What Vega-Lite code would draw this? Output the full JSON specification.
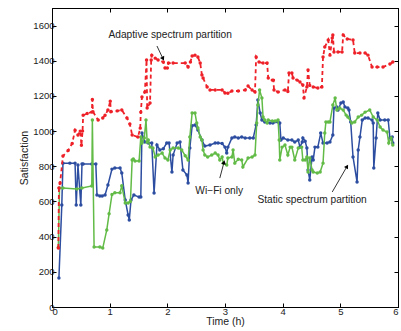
{
  "$schema": "https://vega.github.io/schema/vega-lite/v6.json",
  "width": 346,
  "height": 299,
  "autosize": {"type": "none"},
  "padding": {"left": 52, "top": 8, "right": 3, "bottom": 24},
  "background": "white",
  "config": {
    "view": {"stroke": "black", "strokeWidth": 1},
    "axis": {
      "grid": false,
      "domainColor": "black",
      "tickColor": "black",
      "labelColor": "#222",
      "titleColor": "#222",
      "labelFont": "Liberation Sans",
      "titleFont": "Liberation Sans",
      "labelFontSize": 9.5,
      "titleFontSize": 10.5,
      "titleFontWeight": "normal",
      "tickSize": -4,
      "format": "d"
    }
  },
  "datasets": {
    "lines": [
      {"s": "Adaptive", "t": 0.11, "v": 335}, {"s": "Adaptive", "t": 0.12, "v": 676}, {"s": "Adaptive", "t": 0.14, "v": 705}, {"s": "Adaptive", "t": 0.19, "v": 858}, {"s": "Adaptive", "t": 0.28, "v": 890}, {"s": "Adaptive", "t": 0.35, "v": 930}, {"s": "Adaptive", "t": 0.40, "v": 1005}, {"s": "Adaptive", "t": 0.45, "v": 978}, {"s": "Adaptive", "t": 0.49, "v": 1000}, {"s": "Adaptive", "t": 0.51, "v": 920}, {"s": "Adaptive", "t": 0.53, "v": 1000}, {"s": "Adaptive", "t": 0.54, "v": 1090}, {"s": "Adaptive", "t": 0.61, "v": 1100}, {"s": "Adaptive", "t": 0.69, "v": 1108}, {"s": "Adaptive", "t": 0.70, "v": 1180}, {"s": "Adaptive", "t": 0.71, "v": 1110}, {"s": "Adaptive", "t": 0.80, "v": 1063}, {"s": "Adaptive", "t": 0.88, "v": 1075}, {"s": "Adaptive", "t": 0.92, "v": 1090}, {"s": "Adaptive", "t": 0.97, "v": 1120}, {"s": "Adaptive", "t": 1.01, "v": 1170}, {"s": "Adaptive", "t": 1.02, "v": 1110}, {"s": "Adaptive", "t": 1.13, "v": 1115}, {"s": "Adaptive", "t": 1.21, "v": 1120}, {"s": "Adaptive", "t": 1.30, "v": 1075}, {"s": "Adaptive", "t": 1.35, "v": 1040}, {"s": "Adaptive", "t": 1.39, "v": 978}, {"s": "Adaptive", "t": 1.49, "v": 966}, {"s": "Adaptive", "t": 1.53, "v": 1017}, {"s": "Adaptive", "t": 1.54, "v": 1108}, {"s": "Adaptive", "t": 1.56, "v": 1194}, {"s": "Adaptive", "t": 1.61, "v": 1222}, {"s": "Adaptive", "t": 1.64, "v": 1404}, {"s": "Adaptive", "t": 1.65, "v": 1131}, {"s": "Adaptive", "t": 1.70, "v": 1160}, {"s": "Adaptive", "t": 1.72, "v": 1404}, {"s": "Adaptive", "t": 1.73, "v": 1432}, {"s": "Adaptive", "t": 1.79, "v": 1415}, {"s": "Adaptive", "t": 1.84, "v": 1404}, {"s": "Adaptive", "t": 1.93, "v": 1393}, {"s": "Adaptive", "t": 1.96, "v": 1359}, {"s": "Adaptive", "t": 2.00, "v": 1359}, {"s": "Adaptive", "t": 2.02, "v": 1387}, {"s": "Adaptive", "t": 2.10, "v": 1387}, {"s": "Adaptive", "t": 2.31, "v": 1387}, {"s": "Adaptive", "t": 2.36, "v": 1365}, {"s": "Adaptive", "t": 2.40, "v": 1393}, {"s": "Adaptive", "t": 2.43, "v": 1427}, {"s": "Adaptive", "t": 2.48, "v": 1432}, {"s": "Adaptive", "t": 2.53, "v": 1421}, {"s": "Adaptive", "t": 2.57, "v": 1387}, {"s": "Adaptive", "t": 2.60, "v": 1319}, {"s": "Adaptive", "t": 2.62, "v": 1302}, {"s": "Adaptive", "t": 2.69, "v": 1251}, {"s": "Adaptive", "t": 2.74, "v": 1234}, {"s": "Adaptive", "t": 2.83, "v": 1234}, {"s": "Adaptive", "t": 2.95, "v": 1234}, {"s": "Adaptive", "t": 3.00, "v": 1217}, {"s": "Adaptive", "t": 3.05, "v": 1215}, {"s": "Adaptive", "t": 3.12, "v": 1228}, {"s": "Adaptive", "t": 3.23, "v": 1228}, {"s": "Adaptive", "t": 3.35, "v": 1234}, {"s": "Adaptive", "t": 3.40, "v": 1256}, {"s": "Adaptive", "t": 3.47, "v": 1234}, {"s": "Adaptive", "t": 3.52, "v": 1222}, {"s": "Adaptive", "t": 3.54, "v": 1421}, {"s": "Adaptive", "t": 3.59, "v": 1393}, {"s": "Adaptive", "t": 3.66, "v": 1387}, {"s": "Adaptive", "t": 3.73, "v": 1387}, {"s": "Adaptive", "t": 3.75, "v": 1302}, {"s": "Adaptive", "t": 3.82, "v": 1290}, {"s": "Adaptive", "t": 3.84, "v": 1290}, {"s": "Adaptive", "t": 3.85, "v": 1234}, {"s": "Adaptive", "t": 3.92, "v": 1222}, {"s": "Adaptive", "t": 4.04, "v": 1234}, {"s": "Adaptive", "t": 4.09, "v": 1225}, {"s": "Adaptive", "t": 4.11, "v": 1330}, {"s": "Adaptive", "t": 4.16, "v": 1330}, {"s": "Adaptive", "t": 4.18, "v": 1302}, {"s": "Adaptive", "t": 4.25, "v": 1290}, {"s": "Adaptive", "t": 4.30, "v": 1279}, {"s": "Adaptive", "t": 4.35, "v": 1262}, {"s": "Adaptive", "t": 4.37, "v": 1188}, {"s": "Adaptive", "t": 4.42, "v": 1251}, {"s": "Adaptive", "t": 4.44, "v": 1347}, {"s": "Adaptive", "t": 4.47, "v": 1260}, {"s": "Adaptive", "t": 4.53, "v": 1251}, {"s": "Adaptive", "t": 4.61, "v": 1245}, {"s": "Adaptive", "t": 4.68, "v": 1251}, {"s": "Adaptive", "t": 4.70, "v": 1421}, {"s": "Adaptive", "t": 4.73, "v": 1478}, {"s": "Adaptive", "t": 4.79, "v": 1518}, {"s": "Adaptive", "t": 4.82, "v": 1432}, {"s": "Adaptive", "t": 4.86, "v": 1529}, {"s": "Adaptive", "t": 4.87, "v": 1546}, {"s": "Adaptive", "t": 4.89, "v": 1450}, {"s": "Adaptive", "t": 4.96, "v": 1450}, {"s": "Adaptive", "t": 5.03, "v": 1450}, {"s": "Adaptive", "t": 5.05, "v": 1546}, {"s": "Adaptive", "t": 5.12, "v": 1524}, {"s": "Adaptive", "t": 5.22, "v": 1518}, {"s": "Adaptive", "t": 5.25, "v": 1444}, {"s": "Adaptive", "t": 5.34, "v": 1444}, {"s": "Adaptive", "t": 5.43, "v": 1444}, {"s": "Adaptive", "t": 5.48, "v": 1432}, {"s": "Adaptive", "t": 5.55, "v": 1364}, {"s": "Adaptive", "t": 5.64, "v": 1364}, {"s": "Adaptive", "t": 5.74, "v": 1364}, {"s": "Adaptive", "t": 5.86, "v": 1381}, {"s": "Adaptive", "t": 5.91, "v": 1393},

      {"s": "WiFi", "t": 0.12, "v": 165}, {"s": "WiFi", "t": 0.17, "v": 580}, {"s": "WiFi", "t": 0.19, "v": 818}, {"s": "WiFi", "t": 0.31, "v": 818}, {"s": "WiFi", "t": 0.40, "v": 818}, {"s": "WiFi", "t": 0.42, "v": 580}, {"s": "WiFi", "t": 0.45, "v": 807}, {"s": "WiFi", "t": 0.50, "v": 580}, {"s": "WiFi", "t": 0.52, "v": 813}, {"s": "WiFi", "t": 0.54, "v": 813}, {"s": "WiFi", "t": 0.69, "v": 813}, {"s": "WiFi", "t": 0.76, "v": 813}, {"s": "WiFi", "t": 0.78, "v": 637}, {"s": "WiFi", "t": 0.83, "v": 631}, {"s": "WiFi", "t": 0.87, "v": 631}, {"s": "WiFi", "t": 0.92, "v": 637}, {"s": "WiFi", "t": 0.97, "v": 694}, {"s": "WiFi", "t": 1.04, "v": 784}, {"s": "WiFi", "t": 1.09, "v": 790}, {"s": "WiFi", "t": 1.18, "v": 790}, {"s": "WiFi", "t": 1.21, "v": 762}, {"s": "WiFi", "t": 1.27, "v": 608}, {"s": "WiFi", "t": 1.32, "v": 523}, {"s": "WiFi", "t": 1.34, "v": 495}, {"s": "WiFi", "t": 1.37, "v": 608}, {"s": "WiFi", "t": 1.42, "v": 637}, {"s": "WiFi", "t": 1.51, "v": 625}, {"s": "WiFi", "t": 1.54, "v": 625}, {"s": "WiFi", "t": 1.56, "v": 989}, {"s": "WiFi", "t": 1.61, "v": 938}, {"s": "WiFi", "t": 1.67, "v": 932}, {"s": "WiFi", "t": 1.73, "v": 932}, {"s": "WiFi", "t": 1.77, "v": 648}, {"s": "WiFi", "t": 1.82, "v": 921}, {"s": "WiFi", "t": 1.87, "v": 893}, {"s": "WiFi", "t": 1.93, "v": 900}, {"s": "WiFi", "t": 1.99, "v": 932}, {"s": "WiFi", "t": 2.03, "v": 932}, {"s": "WiFi", "t": 2.08, "v": 767}, {"s": "WiFi", "t": 2.10, "v": 864}, {"s": "WiFi", "t": 2.17, "v": 932}, {"s": "WiFi", "t": 2.22, "v": 938}, {"s": "WiFi", "t": 2.27, "v": 779}, {"s": "WiFi", "t": 2.34, "v": 750}, {"s": "WiFi", "t": 2.36, "v": 705}, {"s": "WiFi", "t": 2.39, "v": 904}, {"s": "WiFi", "t": 2.43, "v": 1030}, {"s": "WiFi", "t": 2.48, "v": 1035}, {"s": "WiFi", "t": 2.53, "v": 1006}, {"s": "WiFi", "t": 2.60, "v": 949}, {"s": "WiFi", "t": 2.65, "v": 915}, {"s": "WiFi", "t": 2.74, "v": 921}, {"s": "WiFi", "t": 2.83, "v": 932}, {"s": "WiFi", "t": 2.88, "v": 932}, {"s": "WiFi", "t": 2.95, "v": 930}, {"s": "WiFi", "t": 3.00, "v": 909}, {"s": "WiFi", "t": 3.03, "v": 875}, {"s": "WiFi", "t": 3.05, "v": 909}, {"s": "WiFi", "t": 3.12, "v": 961}, {"s": "WiFi", "t": 3.17, "v": 966}, {"s": "WiFi", "t": 3.23, "v": 961}, {"s": "WiFi", "t": 3.29, "v": 966}, {"s": "WiFi", "t": 3.35, "v": 961}, {"s": "WiFi", "t": 3.43, "v": 961}, {"s": "WiFi", "t": 3.49, "v": 961}, {"s": "WiFi", "t": 3.54, "v": 1035}, {"s": "WiFi", "t": 3.57, "v": 1177}, {"s": "WiFi", "t": 3.61, "v": 1103}, {"s": "WiFi", "t": 3.64, "v": 1063}, {"s": "WiFi", "t": 3.69, "v": 1052}, {"s": "WiFi", "t": 3.78, "v": 1046}, {"s": "WiFi", "t": 3.83, "v": 1046}, {"s": "WiFi", "t": 3.92, "v": 1052}, {"s": "WiFi", "t": 3.95, "v": 1046}, {"s": "WiFi", "t": 3.97, "v": 949}, {"s": "WiFi", "t": 4.01, "v": 961}, {"s": "WiFi", "t": 4.09, "v": 949}, {"s": "WiFi", "t": 4.16, "v": 949}, {"s": "WiFi", "t": 4.21, "v": 938}, {"s": "WiFi", "t": 4.27, "v": 949}, {"s": "WiFi", "t": 4.30, "v": 909}, {"s": "WiFi", "t": 4.34, "v": 938}, {"s": "WiFi", "t": 4.35, "v": 961}, {"s": "WiFi", "t": 4.39, "v": 943}, {"s": "WiFi", "t": 4.42, "v": 904}, {"s": "WiFi", "t": 4.44, "v": 779}, {"s": "WiFi", "t": 4.47, "v": 722}, {"s": "WiFi", "t": 4.51, "v": 853}, {"s": "WiFi", "t": 4.53, "v": 836}, {"s": "WiFi", "t": 4.56, "v": 909}, {"s": "WiFi", "t": 4.61, "v": 909}, {"s": "WiFi", "t": 4.66, "v": 989}, {"s": "WiFi", "t": 4.70, "v": 932}, {"s": "WiFi", "t": 4.77, "v": 932}, {"s": "WiFi", "t": 4.82, "v": 938}, {"s": "WiFi", "t": 4.87, "v": 978}, {"s": "WiFi", "t": 4.89, "v": 1131}, {"s": "WiFi", "t": 4.94, "v": 1137}, {"s": "WiFi", "t": 4.96, "v": 1120}, {"s": "WiFi", "t": 5.01, "v": 1160}, {"s": "WiFi", "t": 5.05, "v": 1165}, {"s": "WiFi", "t": 5.08, "v": 1137}, {"s": "WiFi", "t": 5.13, "v": 1131}, {"s": "WiFi", "t": 5.15, "v": 1120}, {"s": "WiFi", "t": 5.18, "v": 1052}, {"s": "WiFi", "t": 5.22, "v": 853}, {"s": "WiFi", "t": 5.29, "v": 711}, {"s": "WiFi", "t": 5.31, "v": 893}, {"s": "WiFi", "t": 5.34, "v": 966}, {"s": "WiFi", "t": 5.38, "v": 1063}, {"s": "WiFi", "t": 5.43, "v": 1074}, {"s": "WiFi", "t": 5.48, "v": 1074}, {"s": "WiFi", "t": 5.55, "v": 1063}, {"s": "WiFi", "t": 5.57, "v": 1046}, {"s": "WiFi", "t": 5.58, "v": 790}, {"s": "WiFi", "t": 5.62, "v": 961}, {"s": "WiFi", "t": 5.65, "v": 1103}, {"s": "WiFi", "t": 5.69, "v": 1063}, {"s": "WiFi", "t": 5.77, "v": 1063}, {"s": "WiFi", "t": 5.83, "v": 1063}, {"s": "WiFi", "t": 5.86, "v": 961}, {"s": "WiFi", "t": 5.90, "v": 966}, {"s": "WiFi", "t": 5.91, "v": 932},

      {"s": "Static", "t": 0.11, "v": 340}, {"s": "Static", "t": 0.13, "v": 676}, {"s": "Static", "t": 0.19, "v": 676}, {"s": "Static", "t": 0.43, "v": 671}, {"s": "Static", "t": 0.52, "v": 676}, {"s": "Static", "t": 0.69, "v": 688}, {"s": "Static", "t": 0.70, "v": 1063}, {"s": "Static", "t": 0.73, "v": 341}, {"s": "Static", "t": 0.83, "v": 341}, {"s": "Static", "t": 0.88, "v": 335}, {"s": "Static", "t": 0.95, "v": 438}, {"s": "Static", "t": 0.99, "v": 530}, {"s": "Static", "t": 1.04, "v": 640}, {"s": "Static", "t": 1.09, "v": 650}, {"s": "Static", "t": 1.18, "v": 650}, {"s": "Static", "t": 1.21, "v": 690}, {"s": "Static", "t": 1.27, "v": 591}, {"s": "Static", "t": 1.32, "v": 591}, {"s": "Static", "t": 1.36, "v": 600}, {"s": "Static", "t": 1.39, "v": 836}, {"s": "Static", "t": 1.41, "v": 841}, {"s": "Static", "t": 1.44, "v": 830}, {"s": "Static", "t": 1.51, "v": 830}, {"s": "Static", "t": 1.54, "v": 966}, {"s": "Static", "t": 1.56, "v": 932}, {"s": "Static", "t": 1.60, "v": 961}, {"s": "Static", "t": 1.63, "v": 1063}, {"s": "Static", "t": 1.65, "v": 938}, {"s": "Static", "t": 1.67, "v": 949}, {"s": "Static", "t": 1.70, "v": 909}, {"s": "Static", "t": 1.75, "v": 904}, {"s": "Static", "t": 1.79, "v": 853}, {"s": "Static", "t": 1.84, "v": 864}, {"s": "Static", "t": 1.91, "v": 875}, {"s": "Static", "t": 1.96, "v": 847}, {"s": "Static", "t": 2.01, "v": 836}, {"s": "Static", "t": 2.05, "v": 893}, {"s": "Static", "t": 2.10, "v": 904}, {"s": "Static", "t": 2.19, "v": 904}, {"s": "Static", "t": 2.25, "v": 893}, {"s": "Static", "t": 2.31, "v": 860}, {"s": "Static", "t": 2.36, "v": 836}, {"s": "Static", "t": 2.39, "v": 966}, {"s": "Static", "t": 2.43, "v": 1103}, {"s": "Static", "t": 2.48, "v": 1103}, {"s": "Static", "t": 2.51, "v": 1046}, {"s": "Static", "t": 2.53, "v": 1018}, {"s": "Static", "t": 2.57, "v": 966}, {"s": "Static", "t": 2.60, "v": 949}, {"s": "Static", "t": 2.62, "v": 893}, {"s": "Static", "t": 2.65, "v": 864}, {"s": "Static", "t": 2.70, "v": 853}, {"s": "Static", "t": 2.77, "v": 864}, {"s": "Static", "t": 2.83, "v": 875}, {"s": "Static", "t": 2.88, "v": 864}, {"s": "Static", "t": 2.91, "v": 836}, {"s": "Static", "t": 2.95, "v": 853}, {"s": "Static", "t": 2.97, "v": 818}, {"s": "Static", "t": 3.03, "v": 807}, {"s": "Static", "t": 3.05, "v": 847}, {"s": "Static", "t": 3.12, "v": 853}, {"s": "Static", "t": 3.14, "v": 893}, {"s": "Static", "t": 3.17, "v": 818}, {"s": "Static", "t": 3.23, "v": 840}, {"s": "Static", "t": 3.29, "v": 836}, {"s": "Static", "t": 3.31, "v": 796}, {"s": "Static", "t": 3.40, "v": 847}, {"s": "Static", "t": 3.47, "v": 853}, {"s": "Static", "t": 3.52, "v": 864}, {"s": "Static", "t": 3.55, "v": 1046}, {"s": "Static", "t": 3.57, "v": 1148}, {"s": "Static", "t": 3.60, "v": 1234}, {"s": "Static", "t": 3.64, "v": 1188}, {"s": "Static", "t": 3.66, "v": 1080}, {"s": "Static", "t": 3.69, "v": 1063}, {"s": "Static", "t": 3.73, "v": 1046}, {"s": "Static", "t": 3.75, "v": 1063}, {"s": "Static", "t": 3.82, "v": 1058}, {"s": "Static", "t": 3.87, "v": 1058}, {"s": "Static", "t": 3.92, "v": 1063}, {"s": "Static", "t": 3.94, "v": 949}, {"s": "Static", "t": 3.95, "v": 836}, {"s": "Static", "t": 3.99, "v": 909}, {"s": "Static", "t": 4.04, "v": 921}, {"s": "Static", "t": 4.09, "v": 864}, {"s": "Static", "t": 4.13, "v": 909}, {"s": "Static", "t": 4.16, "v": 909}, {"s": "Static", "t": 4.21, "v": 836}, {"s": "Static", "t": 4.27, "v": 904}, {"s": "Static", "t": 4.33, "v": 909}, {"s": "Static", "t": 4.35, "v": 836}, {"s": "Static", "t": 4.39, "v": 836}, {"s": "Static", "t": 4.42, "v": 853}, {"s": "Static", "t": 4.44, "v": 767}, {"s": "Static", "t": 4.47, "v": 847}, {"s": "Static", "t": 4.51, "v": 779}, {"s": "Static", "t": 4.53, "v": 767}, {"s": "Static", "t": 4.60, "v": 762}, {"s": "Static", "t": 4.65, "v": 767}, {"s": "Static", "t": 4.70, "v": 818}, {"s": "Static", "t": 4.73, "v": 989}, {"s": "Static", "t": 4.75, "v": 1052}, {"s": "Static", "t": 4.79, "v": 1052}, {"s": "Static", "t": 4.82, "v": 1052}, {"s": "Static", "t": 4.87, "v": 1148}, {"s": "Static", "t": 4.91, "v": 1188}, {"s": "Static", "t": 4.94, "v": 1120}, {"s": "Static", "t": 4.99, "v": 1131}, {"s": "Static", "t": 5.05, "v": 1120}, {"s": "Static", "t": 5.10, "v": 1091}, {"s": "Static", "t": 5.13, "v": 1080}, {"s": "Static", "t": 5.20, "v": 1046}, {"s": "Static", "t": 5.25, "v": 1052}, {"s": "Static", "t": 5.31, "v": 1080}, {"s": "Static", "t": 5.37, "v": 1091}, {"s": "Static", "t": 5.43, "v": 1108}, {"s": "Static", "t": 5.51, "v": 1120}, {"s": "Static", "t": 5.57, "v": 1080}, {"s": "Static", "t": 5.64, "v": 1063}, {"s": "Static", "t": 5.69, "v": 1023}, {"s": "Static", "t": 5.74, "v": 1006}, {"s": "Static", "t": 5.81, "v": 995}, {"s": "Static", "t": 5.84, "v": 932}, {"s": "Static", "t": 5.88, "v": 961}, {"s": "Static", "t": 5.91, "v": 921}
    ],
    "labels": [
      {"label": "Adaptive spectrum partition", "t": 2.05, "v": 1546},
      {"label": "Wi\u2212Fi only", "t": 2.90, "v": 662},
      {"label": "Static spectrum partition", "t": 4.51, "v": 608}
    ],
    "arrows": [
      {"id": "a", "t": 1.82, "v": 1484, "t2": 1.92, "v2": 1415},
      {"id": "w", "t": 2.91, "v": 733, "t2": 2.98, "v2": 819},
      {"id": "s", "t": 4.86, "v": 654, "t2": 5.11, "v2": 796}
    ]
  },
  "layer": [
    {
      "data": {"name": "lines"},
      "transform": [{"filter": "datum.s === 'WiFi'"}],
      "mark": {"type": "line", "color": "#2c4da0", "strokeWidth": 1.5, "point": {"filled": true, "size": 12, "color": "#2c4da0"}},
      "encoding": {
        "x": {"field": "t", "type": "quantitative", "scale": {"domain": [0, 6], "nice": false},
          "axis": {"orient": "bottom", "values": [0, 1, 2, 3, 4, 5, 6], "title": "Time (h)", "labelPadding": 3, "titlePadding": 1}},
        "y": {"field": "v", "type": "quantitative", "scale": {"domain": [0, 1700], "nice": false},
          "axis": {"orient": "left", "values": [0, 200, 400, 600, 800, 1000, 1200, 1400, 1600], "title": "Satisfaction", "labelPadding": 2, "titlePadding": 3}}
      }
    },
    {
      "data": {"name": "lines"},
      "transform": [{"filter": "datum.s === 'Static'"}],
      "mark": {"type": "line", "color": "#62bb46", "strokeWidth": 1.5, "point": {"filled": true, "size": 12, "color": "#62bb46"}},
      "encoding": {
        "x": {"field": "t", "type": "quantitative", "axis": null},
        "y": {"field": "v", "type": "quantitative", "axis": null}
      }
    },
    {
      "data": {"name": "lines"},
      "transform": [{"filter": "datum.s === 'Adaptive'"}],
      "mark": {"type": "line", "color": "#ee2028", "strokeWidth": 1.8, "strokeDash": [4, 3], "point": {"filled": true, "size": 12, "color": "#ee2028"}},
      "encoding": {
        "x": {"field": "t", "type": "quantitative", "axis": null},
        "y": {"field": "v", "type": "quantitative", "axis": null}
      }
    },
    {
      "data": {"name": "labels"},
      "mark": {"type": "text", "font": "Liberation Sans", "fontSize": 10.2, "color": "#222"},
      "encoding": {
        "x": {"field": "t", "type": "quantitative", "axis": null},
        "y": {"field": "v", "type": "quantitative", "axis": null},
        "text": {"field": "label"}
      }
    },
    {
      "data": {"name": "arrows"},
      "mark": {"type": "rule", "color": "black", "strokeWidth": 0.8},
      "encoding": {
        "x": {"field": "t", "type": "quantitative", "axis": null},
        "y": {"field": "v", "type": "quantitative", "axis": null},
        "x2": {"field": "t2"},
        "y2": {"field": "v2"}
      }
    },
    {
      "data": {"name": "arrows"},
      "transform": [{"filter": "datum.id === 'a'"}],
      "mark": {"type": "point", "shape": "triangle", "filled": true, "color": "black", "size": 22, "angle": 153, "opacity": 1},
      "encoding": {
        "x": {"field": "t2", "type": "quantitative", "axis": null},
        "y": {"field": "v2", "type": "quantitative", "axis": null}
      }
    },
    {
      "data": {"name": "arrows"},
      "transform": [{"filter": "datum.id === 'w'"}],
      "mark": {"type": "point", "shape": "triangle", "filled": true, "color": "black", "size": 22, "angle": 14, "opacity": 1},
      "encoding": {
        "x": {"field": "t2", "type": "quantitative", "axis": null},
        "y": {"field": "v2", "type": "quantitative", "axis": null}
      }
    },
    {
      "data": {"name": "arrows"},
      "transform": [{"filter": "datum.id === 's'"}],
      "mark": {"type": "point", "shape": "triangle", "filled": true, "color": "black", "size": 22, "angle": 31, "opacity": 1},
      "encoding": {
        "x": {"field": "t2", "type": "quantitative", "axis": {"orient": "top", "values": [0, 1, 2, 3, 4, 5, 6], "labels": false, "title": null}},
        "y": {"field": "v2", "type": "quantitative", "axis": {"orient": "right", "values": [0, 200, 400, 600, 800, 1000, 1200, 1400, 1600], "labels": false, "title": null}}
      }
    }
  ],
  "resolve": {"axis": {"x": "independent", "y": "independent"}}
}
